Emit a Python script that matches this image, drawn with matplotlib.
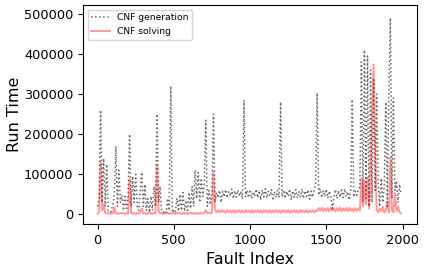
import numpy as np
import matplotlib
matplotlib.use("Agg")
import matplotlib.pyplot as plt

# Fault index positions (every 10 faults)
fault_idx = list(range(0, 2000, 10))

# CNF generation run time (thousands)
gen_k = [
    20, 40, 260, 30, 140, 20, 125, 10, 5, 8,            # 0-90
    25, 50, 170, 20, 110, 30, 48, 10, 45, 15,           # 100-190
    45, 200, 20, 95, 30, 100, 20, 10, 60, 105,          # 200-290
    20, 75, 10, 40, 5, 45, 10, 70, 20, 250,             # 300-390
    30, 70, 10, 5, 10, 5, 40, 10, 320, 5,               # 400-490
    10, 5, 40, 8, 50, 10, 55, 8, 35, 10,                # 500-590
    55, 15, 70, 20, 110, 40, 105, 30, 90, 45,           # 600-690
    75, 235, 20, 60, 25, 55, 250, 30, 55, 42,           # 700-790
    60, 30, 58, 44, 62, 41, 57, 46, 63, 40,             # 800-890
    59, 43, 61, 45, 58, 38, 285, 44, 60, 42,            # 900-990
    62, 40, 57, 45, 63, 42, 59, 36, 61, 44,             # 1000-1090
    64, 41, 58, 46, 62, 35, 57, 43, 60, 42,             # 1100-1190
    280, 44, 61, 40, 58, 45, 63, 36, 59, 43,            # 1200-1290
    62, 41, 57, 44, 64, 40, 59, 45, 61, 38,             # 1300-1390
    58, 43, 62, 75, 303, 48, 64, 42, 60, 45,            # 1400-1490
    63, 41, 58, 46, 10, 44, 62, 40, 59, 43,             # 1500-1590
    61, 42, 64, 45, 57, 36, 60, 287, 44, 58,            # 1600-1690
    48, 62, 70, 380, 30, 410, 40, 395, 20, 360,         # 1700-1790
    30, 340, 60, 300, 80, 20, 90, 30, 70, 280,          # 1800-1890
    20, 300, 490, 40, 290, 60, 80, 30, 75, 50,          # 1900-1990
]

# CNF solving run time (thousands)
solve_k = [
    2, 6, 130, 10, 25, 4, 2, 4, 1, 4,                   # 0-90
    2, 18, 2, 4, 1, 4, 2, 4, 1, 4,                      # 100-190
    2, 88, 4, 2, 4, 1, 4, 2, 4, 15,                     # 200-290
    2, 4, 1, 4, 2, 4, 1, 4, 2, 122,                     # 300-390
    10, 2, 4, 1, 4, 2, 4, 1, 4, 2,                      # 400-490
    4, 1, 4, 2, 4, 1, 4, 2, 4, 1,                       # 500-590
    4, 2, 4, 1, 4, 2, 4, 1, 4, 2,                       # 600-690
    4, 10, 3, 5, 2, 5, 106, 12, 5, 11,                  # 700-790
    5, 11, 6, 10, 4, 11, 6, 10, 5, 11,                  # 800-890
    4, 10, 6, 11, 5, 10, 4, 11, 6, 10,                  # 900-990
    5, 11, 4, 10, 6, 11, 5, 10, 4, 11,                  # 1000-1090
    6, 10, 5, 11, 4, 10, 6, 11, 5, 10,                  # 1100-1190
    4, 11, 6, 10, 5, 11, 4, 10, 6, 11,                  # 1200-1290
    5, 10, 4, 11, 6, 10, 5, 11, 4, 10,                  # 1300-1390
    6, 11, 5, 10, 8, 16, 9, 17, 8, 15,                  # 1400-1490
    9, 16, 8, 17, 9, 15, 8, 16, 9, 17,                  # 1500-1590
    8, 15, 9, 16, 8, 17, 9, 15, 8, 16,                  # 1600-1690
    9, 15, 10, 90, 20, 85, 25, 93, 15, 60,              # 1700-1790
    250, 374, 180, 10, 5, 15, 8, 20, 5, 10,             # 1800-1890
    30, 5, 143, 10, 5, 53, 8, 20, 5, 3,                 # 1900-1990
]

x = np.array(fault_idx)
gen = np.array(gen_k) * 1000
solve = np.array(solve_k) * 1000

fig = plt.figure(figsize=(4.26, 2.70), dpi=100)
ax = fig.add_axes([0.195, 0.170, 0.784, 0.811])
ax.plot(x, gen, linestyle=':', color='dimgray', linewidth=1.1, label='CNF generation')
ax.plot(x, solve, linestyle='-', color='red', alpha=0.4, linewidth=1.4, label='CNF solving')

ax.set_xlabel('Fault Index', fontsize=11.5)
ax.set_ylabel('Run Time', fontsize=11.5, labelpad=1)
ax.tick_params(labelsize=9.3)
ax.set_xticks([0, 500, 1000, 1500, 2000])
ax.set_yticks([0, 100000, 200000, 300000, 400000, 500000])
ax.set_xlim(-95, 2095)
ax.set_ylim(-24000, 522000)
ax.legend(loc='upper left', fontsize=6.6)

fig.savefig('out.png', dpi=100)
